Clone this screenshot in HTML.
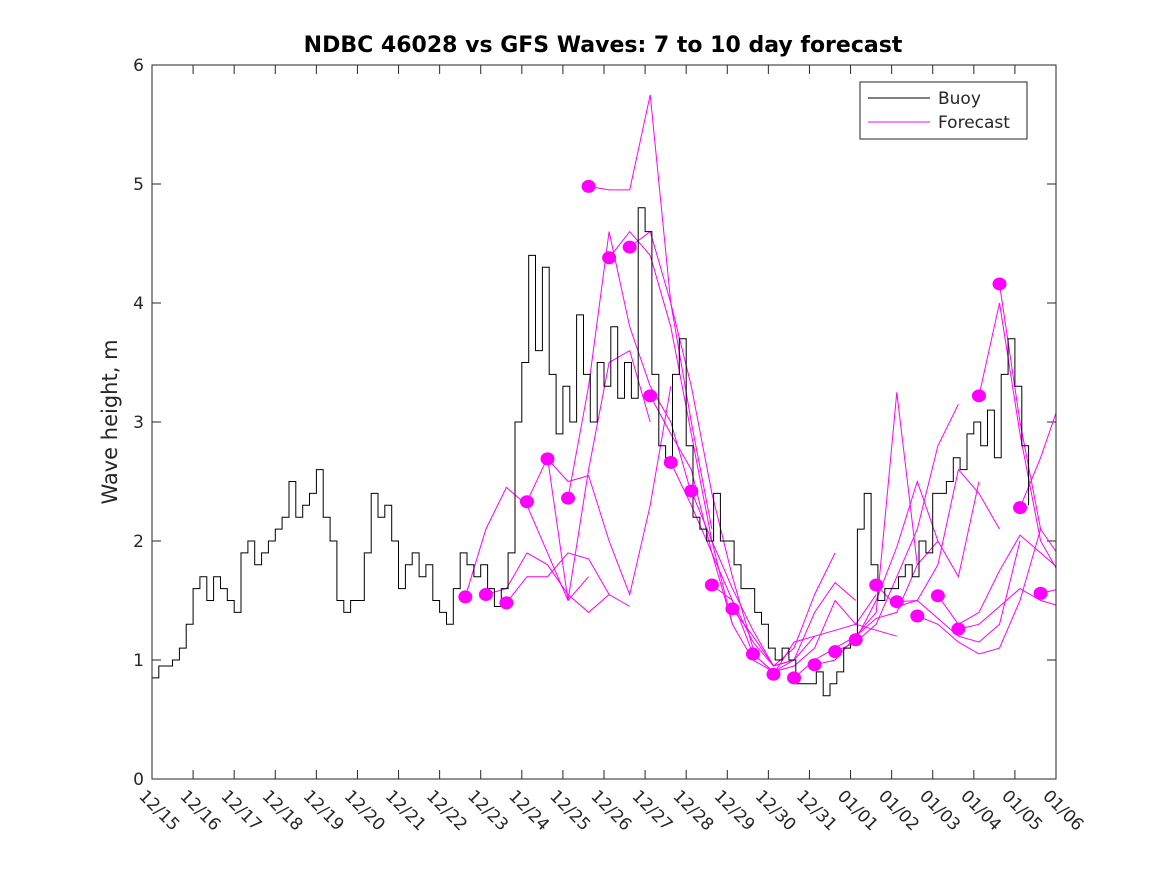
<!DOCTYPE html>
<html><head><meta charset="utf-8"><style>
body{margin:0;background:#fff;}
svg text{font-family:"DejaVu Sans","Liberation Sans",sans-serif;fill:#262626;}
</style></head><body>
<svg id="chart" width="1167" height="875" viewBox="0 0 1167 875" xmlns="http://www.w3.org/2000/svg">
<rect width="1167" height="875" fill="#fff"/>
<text x="603" y="52" text-anchor="middle" font-size="22" font-weight="bold" style="fill:#000">NDBC 46028 vs GFS Waves: 7 to 10 day forecast</text>
<text transform="translate(117,422) rotate(-90)" text-anchor="middle" font-size="21">Wave height, m</text>
<defs><clipPath id="pc"><rect x="152" y="65" width="904" height="714"/></clipPath></defs>
<g id="axes"></g>
<g id="plot" clip-path="url(#pc)"></g>
<rect x="152" y="65" width="904" height="714" fill="none" stroke="#262626" stroke-width="1"/>
<g>
<rect x="860" y="82" width="167" height="57" fill="#fff" stroke="#262626" stroke-width="1"/>
<line x1="868" y1="98" x2="930" y2="98" stroke="#000"/>
<text x="938" y="104" font-size="17">Buoy</text>
<line x1="868" y1="122" x2="930" y2="122" stroke="#f0f"/>
<text x="938" y="128" font-size="17">Forecast</text>
</g>
</svg>
<script>
const xTickLabels=["12/15","12/16","12/17","12/18","12/19","12/20","12/21","12/22","12/23","12/24","12/25","12/26","12/27","12/28","12/29","12/30","12/31","01/01","01/02","01/03","01/04","01/05","01/06"];
const yTicks=[0,1,2,3,4,5,6];
const buoyStep=1/6;
const buoyValues=[0.85,0.95,0.95,1.0,1.1,1.3,
1.6,1.7,1.5,1.7,1.6,1.5,
1.4,1.9,2.0,1.8,1.9,2.0,
2.1,2.2,2.5,2.2,2.3,2.4,
2.6,2.2,2.0,1.5,1.4,1.5,
1.5,1.9,2.4,2.2,2.3,2.0,
1.6,1.8,1.9,1.7,1.8,1.5,
1.4,1.3,1.6,1.9,1.8,1.7,
1.8,1.6,1.45,1.6,1.9,3.0,
3.5,4.4,3.6,4.3,3.4,2.9,
3.3,3.0,3.9,3.4,3.0,3.5,
3.3,3.8,3.2,3.5,3.2,4.8,
4.6,3.4,2.8,2.7,3.4,3.7,
2.8,2.2,2.1,2.0,2.4,2.0,
2.0,1.8,1.6,1.6,1.4,1.3,
1.1,1.0,1.1,1.0,0.8,0.8,
0.8,0.9,0.7,0.8,0.9,1.1,
1.2,2.1,2.4,1.8,1.5,1.6,
1.6,1.7,1.8,1.7,2.0,1.9,
2.4,2.4,2.5,2.7,2.6,2.9,
3.0,2.8,3.1,2.7,3.4,3.7,
3.3,2.8,2.3];
const forecastStart=7.625;
const forecastSpacing=0.5;
const forecastStep=0.5;
const forecasts=[
[1.53,2.1,2.45,2.3,1.9,1.5,1.7],
[1.55,1.6,1.9,1.8,1.55,1.4,1.55],
[1.48,1.7,1.7,1.9,1.85,1.55,1.45],
[2.33,2.7,1.5,2.6,3.5,3.6,3.0],
[2.69,2.5,2.55,2.0,1.55,2.3,3.3],
[2.36,3.3,4.6,3.8,3.3,3.0,2.4],
[4.98,4.95,4.95,5.75,4.0,3.0,2.1],
[4.38,4.6,4.4,3.8,2.9,2.0,1.3],
[4.47,4.6,4.0,3.3,2.4,1.7,1.1],
[3.22,2.9,2.6,1.9,1.3,1.0,0.9],
[2.66,2.3,1.9,1.5,1.05,0.9,1.0],
[2.42,2.0,1.6,1.25,0.95,1.0,1.2],
[1.63,1.5,1.15,0.95,1.1,1.55,1.9],
[1.43,1.2,0.95,1.0,1.4,1.65,1.5],
[1.05,0.9,0.95,1.1,1.5,1.3,1.55],
[0.88,1.15,1.2,1.25,1.3,1.25,1.2],
[0.85,1.0,1.1,1.2,1.35,1.4,1.8],
[0.96,1.0,1.2,1.4,3.25,1.8,2.0],
[1.07,1.15,1.3,1.7,2.1,2.8,3.15],
[1.17,1.5,1.95,2.5,2.0,1.7,2.5],
[1.63,1.45,1.5,1.8,2.6,2.4,2.1],
[1.49,1.5,1.35,1.2,1.15,1.3,2.0],
[1.37,1.3,1.15,1.05,1.1,1.5,2.1],
[1.54,1.3,1.4,1.75,2.05,1.9,1.75],
[1.26,1.3,1.45,1.6,1.5,1.45,1.8],
[3.22,4.0,2.9,2.0,1.7,1.6,1.4],
[4.16,3.0,2.1,1.85,1.6,1.5,1.4],
[2.28,2.7,3.2,3.8,3.9,3.9,3.9],
[1.56,1.6,1.95,2.4,2.6,2.6,2.6]];
const X0=152,X1=1056,Y0=779,Y1=65,NDAYS=22,YMAX=6;
function xs(d){return X0+(X1-X0)*d/NDAYS;}
function ys(v){return Y0-(Y0-Y1)*v/YMAX;}
const NS="http://www.w3.org/2000/svg";
const axes=document.getElementById('axes'),plot=document.getElementById('plot');
function mk(t,a){const e=document.createElementNS(NS,t);for(const k in a)e.setAttribute(k,a[k]);return e;}
xTickLabels.forEach((lab,i)=>{const x=xs(i);
 const t1=mk('line',{x1:x,y1:Y0,x2:x,y2:Y0-9,stroke:'#262626'});
 
 axes.appendChild(t1);
 const t2=mk('line',{x1:x,y1:Y1,x2:x,y2:Y1+9,stroke:'#262626'});
 
 axes.appendChild(t2);
 const tx=mk('text',{transform:`translate(${x-14},${Y0+18}) rotate(45)`,'font-size':'17'});
 
 
 tx.textContent=lab;axes.appendChild(tx);});
yTicks.forEach(v=>{const y=ys(v);
 const t1=mk('line',{x1:X0,y1:y,x2:X0+9,y2:y,stroke:'#262626'});
 
 axes.appendChild(t1);
 const t2=mk('line',{x1:X1,y1:y,x2:X1-9,y2:y,stroke:'#262626'});
 
 axes.appendChild(t2);
 const tx=mk('text',{x:X0-8,y:y+6,'text-anchor':'end','font-size':'17'});
 
 
 tx.textContent=v;axes.appendChild(tx);});
forecasts.forEach((f,i)=>{const t0=forecastStart+i*forecastSpacing;
 const pts=f.map((v,j)=>xs(t0+j*forecastStep).toFixed(1)+','+ys(v).toFixed(1)).join(' ');
 const pl=mk('polyline',{points:pts,fill:'none',stroke:'#ff00ff','stroke-width':'1'});
 
 plot.appendChild(pl);});
let bp=[];buoyValues.forEach((v,i)=>{const x=xs(i*buoyStep);
 if(i>0)bp.push(x.toFixed(1)+','+ys(buoyValues[i-1]).toFixed(1));
 bp.push(x.toFixed(1)+','+ys(v).toFixed(1));});
const bl=mk('polyline',{points:bp.join(' '),fill:'none',stroke:'#000','stroke-width':'1'});

plot.appendChild(bl);
forecasts.forEach((f,i)=>{const c=mk('ellipse',{cx:xs(forecastStart+i*forecastSpacing),cy:ys(f[0]),rx:7,ry:6.5,fill:'#ff00ff'});
 
 plot.appendChild(c);});
</script>
</body></html>
